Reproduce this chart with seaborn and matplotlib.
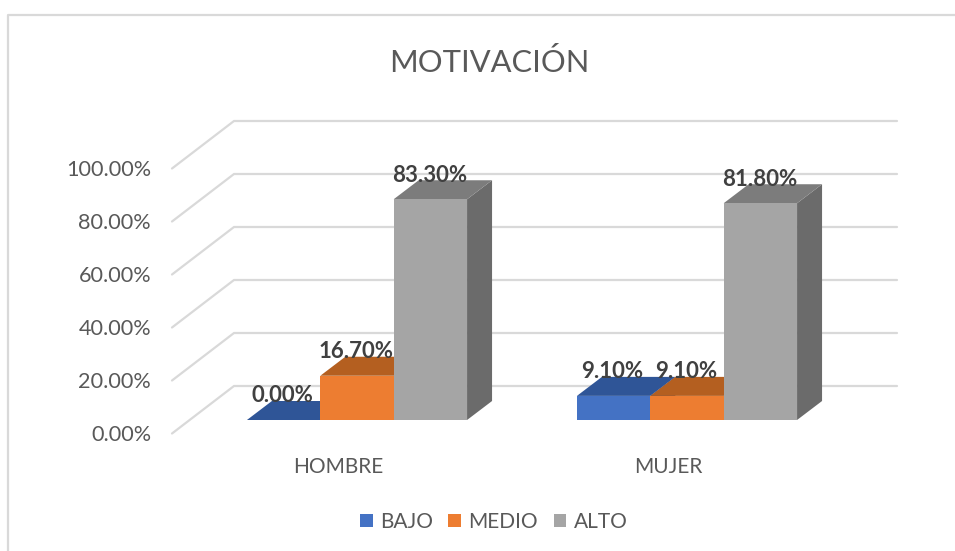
import pandas as pd
import seaborn as sns
import matplotlib.pyplot as plt
from matplotlib.lines import Line2D
from matplotlib.patches import Polygon

grupos = ["HOMBRE", "MUJER"]
niveles = ["BAJO", "MEDIO", "ALTO"]
bajo = [0.0, 9.1]
medio = [16.7, 9.1]
alto = [83.3, 81.8]
ticks = [0, 20, 40, 60, 80, 100]

colores = ["#4472C4", "#ED7D31", "#A5A5A5"]
colores_top = ["#2F5597", "#B45F20", "#7C7C7C"]
colores_lado = ["#2F5597", "#A5561C", "#6B6B6B"]

df = pd.DataFrame({
    "grupo": grupos * 3,
    "nivel": [n for n in niveles for _ in grupos],
    "valor": bajo + medio + alto,
})

W, H = 955, 551
sns.set_theme(style="white")
plt.rcParams["font.family"] = ["Lato", "DejaVu Sans"]

fig = plt.figure(figsize=(W / 100, H / 100), dpi=100)
ax = fig.add_axes([0, 0, 1, 1])

sns.barplot(data=df, x="grupo", y="valor", hue="nivel", hue_order=niveles, palette=colores,
            width=0.667, gap=0, saturation=1, linewidth=0, edgecolor="none", ax=ax)

# escala: 330 px entre grupos, 2.65 px por punto, base en y=420
sx, sy = 330, 2.65
ax.set_xlim(-357 / sx, (W - 357) / sx)
ax.set_ylim((420 - H) / sy, 420 / sy)

gris = "#D9D9D9"
# pared del fondo y lineas diagonales
for t in ticks:
    yb = t + 34 / sy
    yf = t - 13.5 / sy
    x0 = (172 - 357) / sx
    x1 = (234 - 357) / sx
    x2 = (897 - 357) / sx
    ax.plot([x0, x1, x2], [yf, yb, yb], color=gris, lw=1.6, zorder=0, solid_joinstyle="miter")
    ax.text((151 - 357) / sx, t - 15 / sy, f"{t:.2f}%", ha="right", va="center", fontsize=15.6, color="#595959")

# caras 3D a partir de las barras
dx, dy = 25 / sx, 19 / sy
for i, cont in enumerate(ax.containers):
    for bar in cont:
        x = bar.get_x()
        w = bar.get_width()
        h = bar.get_height()
        bar.set_zorder(4)
        ax.add_patch(Polygon([(x + w, 0), (x + w + dx, dy), (x + w + dx, h + dy), (x + w, h)],
                             color=colores_lado[i], lw=0, zorder=2))
        ax.add_patch(Polygon([(x, h), (x + w, h), (x + w + dx, h + dy), (x + dx, h + dy)],
                             color=colores_top[i], lw=0, zorder=3))
        ax.text(x + w / 2 - 1 / sx, h + 24 / sy, f"{h:.2f}%", ha="center", va="center", fontsize=16,
                fontweight="bold", color="#404040", zorder=5)

for i, g in enumerate(grupos):
    ax.text(i - 19 / sx, -47 / sy, g, ha="center", va="center", fontsize=15, color="#595959")

ax.set_axis_off()

handles = ax.get_legend().legend_handles
ax.legend(handles, niveles, loc="center", bbox_to_anchor=(493.5 / W, 1 - 522 / H), ncol=3, frameon=False,
          fontsize=15, labelcolor="#595959", handlelength=0.62, handleheight=0.62,
          handletextpad=0.34, columnspacing=0.75)

fig.text(489 / W, 1 - 63 / H, "MOTIVACIÓN", ha="center", va="center", fontsize=22.2, color="#595959")

# borde del grafico
fig.add_artist(Line2D([8 / W, 8 / W, 1], [0, 1 - 15 / H, 1 - 15 / H], color=gris, lw=1.6))

fig.savefig("out.png", dpi=100, facecolor="white")
